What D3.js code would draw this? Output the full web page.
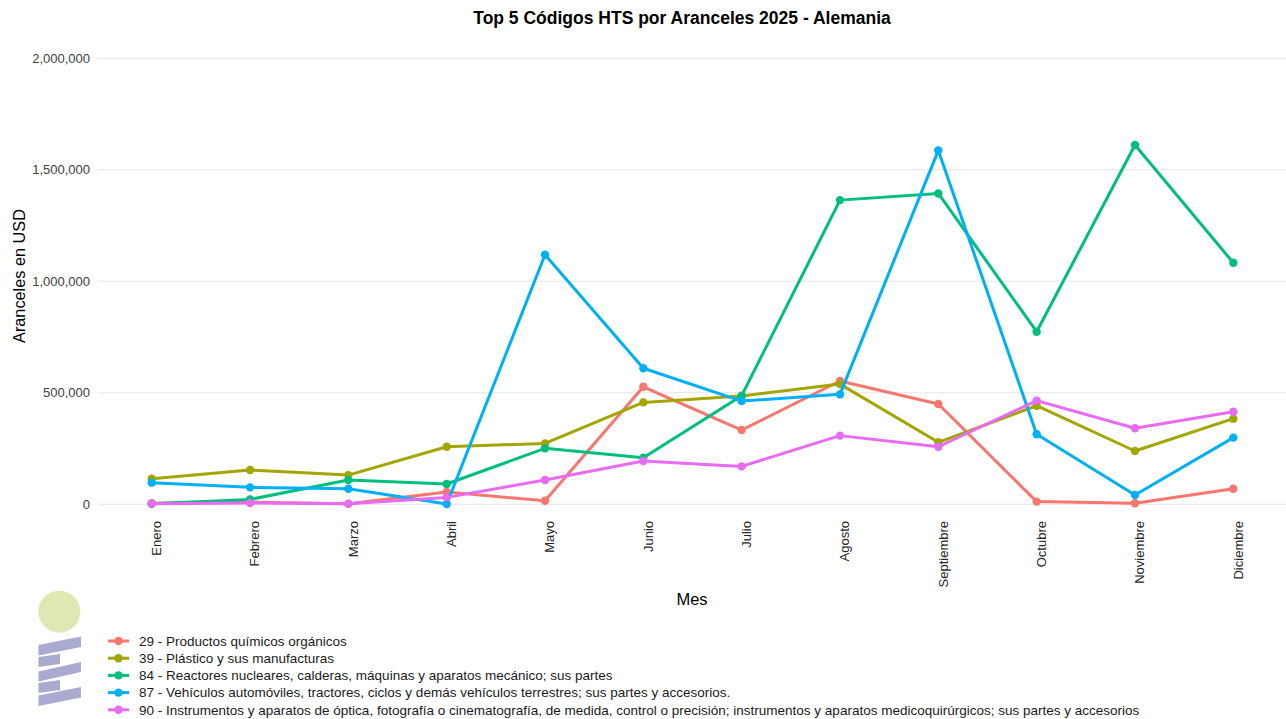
<!DOCTYPE html>
<html><head><meta charset="utf-8">
<script src="https://cdn.jsdelivr.net/npm/d3@7"></script>
<style>body{margin:0;background:#fff}svg{display:block;font-family:"Liberation Sans",Arial,sans-serif}</style>
</head><body><svg id="c" width="1286" height="719"></svg>
<script>
const months = ["Enero","Febrero","Marzo","Abril","Mayo","Junio","Julio","Agosto","Septiembre","Octubre","Noviembre","Diciembre"];
const seriesNames = [
 "29 - Productos químicos orgánicos",
 "39 - Plástico y sus manufacturas",
 "84 - Reactores nucleares, calderas, máquinas y aparatos mecánico; sus partes",
 "87 - Vehículos automóviles, tractores, ciclos y demás vehículos terrestres; sus partes y accesorios.",
 "90 - Instrumentos y aparatos de óptica, fotografía o cinematografía, de medida, control o precisión; instrumentos y aparatos medicoquirúrgicos; sus partes y accesorios"
];
const colors = ["#F8766D","#A3A500","#00BF7D","#00B0F6","#E76BF3"];
const v29 = [5000,10000,2000,55000,16000,527000,333000,553000,450000,12000,4500,70000];
const v39 = [115000,154000,131000,258000,273000,457000,486000,539000,278000,442000,239000,384000];
const v84 = [2000,22000,109000,91000,251000,209000,487000,1364000,1394000,774000,1611000,1083000];
const v87 = [97000,76000,70000,1000,1119000,610000,463000,493000,1587000,314000,42000,299000];
const v90 = [3000,6000,3000,31000,109000,194000,170000,308000,258000,465000,341000,415000];
const yTicks = [0,500000,1000000,1500000,2000000];
const allSeries = [v29,v39,v84,v87,v90];

const svg = d3.select("#c");
const x = d3.scalePoint().domain(months).range([151.7,1233.3]);
const y = d3.scaleLinear().domain([0,2000000]).range([504.3,58.3]);
const panelL = 98, panelR = 1286;

// grid
svg.append("g").selectAll("line").data(yTicks).join("line")
  .attr("x1",panelL).attr("x2",panelR).attr("y1",d=>y(d)).attr("y2",d=>y(d))
  .attr("stroke","#e6e6e6").attr("stroke-width",1.1);

// y axis labels
const fmt = d3.format(",");
svg.append("g").selectAll("text").data(yTicks).join("text")
  .attr("x",90).attr("y",d=>y(d)).attr("dy","0.35em").attr("text-anchor","end")
  .attr("font-size",13).attr("fill","#404040").text(d=>fmt(d));

// x axis labels
svg.append("g").selectAll("text").data(months).join("text")
  .attr("transform",d=>`translate(${x(d)},521) rotate(-90)`)
  .attr("text-anchor","end").attr("dy","0.72em")
  .attr("font-size",13).attr("fill","#262626").text(d=>d);

// lines
const line = d3.line().x((d,i)=>x(months[i])).y(d=>y(d));
allSeries.forEach((s,k)=>{
  svg.append("path").datum(s).attr("d",line).attr("fill","none")
    .attr("stroke",colors[k]).attr("stroke-width",3).attr("stroke-linejoin","round");
  svg.append("g").selectAll("circle").data(s).join("circle")
    .attr("cx",(d,i)=>x(months[i])).attr("cy",d=>y(d)).attr("r",4.2).attr("fill",colors[k]);
});

// titles
svg.append("text").attr("x",682).attr("y",24).attr("text-anchor","middle")
  .attr("font-size",17.5).attr("font-weight","bold").attr("fill","#000")
  .text("Top 5 Códigos HTS por Aranceles 2025 - Alemania");
svg.append("text").attr("x",692).attr("y",605).attr("text-anchor","middle")
  .attr("font-size",16.5).attr("fill","#000").text("Mes");
svg.append("text").attr("transform","translate(25,276) rotate(-90)").attr("text-anchor","middle")
  .attr("font-size",16.3).attr("fill","#000").text("Aranceles en USD");

// legend
const lg = svg.append("g");
seriesNames.forEach((n,k)=>{
  const yy = 641 + k*17.2;
  lg.append("line").attr("x1",108).attr("x2",129).attr("y1",yy).attr("y2",yy)
    .attr("stroke",colors[k]).attr("stroke-width",3);
  lg.append("circle").attr("cx",118.5).attr("cy",yy).attr("r",4.2).attr("fill",colors[k]);
  lg.append("text").attr("x",139).attr("y",yy).attr("dy","0.35em")
    .attr("font-size",13.5).attr("fill","#1a1a1a").text(n);
});

// logo
const logo = svg.append("g");
logo.append("circle").attr("cx",59.3).attr("cy",611.7).attr("r",21).attr("fill","#dfe8b3");
const bars = [
  [[38.5,645],[81,636.5],[81,647],[38.5,655.5]],
  [[38.5,657],[60,654],[60,664],[38.5,667]],
  [[38.5,671.5],[81,662],[81,672],[38.5,681.5]],
  [[38.5,683],[60,680],[60,690],[38.5,693]],
  [[38.5,695.5],[81,687],[81,697.5],[38.5,706]]
];
logo.selectAll("polygon").data(bars).join("polygon")
  .attr("points",d=>d.map(p=>p.join(",")).join(" ")).attr("fill","#a9aacf");
</script></body></html>
